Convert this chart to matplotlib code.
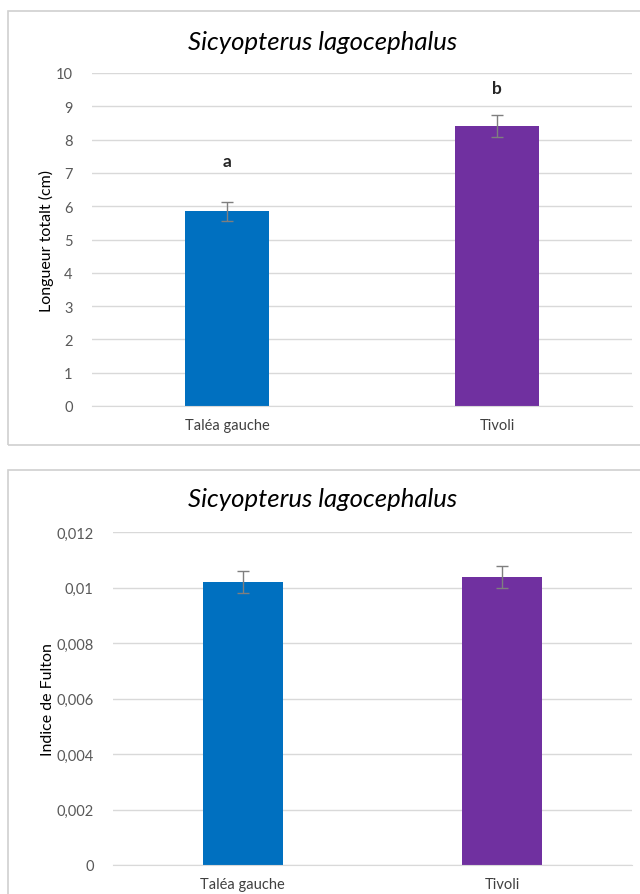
import matplotlib
matplotlib.use("Agg")
import matplotlib.pyplot as plt
from matplotlib.patches import Rectangle

plt.rcParams['font.family'] = ['Lato', 'DejaVu Sans']

# Data
sites = ["Taléa gauche", "Tivoli"]
colors = ["#0070C0", "#7030A0"]

longueur = [5.85, 8.41]
longueur_err = [0.29, 0.34]
lettres = ["a", "b"]
lettres_y = [7.35, 9.55]

fulton = [0.0102, 0.01038]
fulton_err = [0.0004, 0.0004]
fulton_ticks = [0, 0.002, 0.004, 0.006, 0.008, 0.01, 0.012]
fulton_labels = ["0", "0,002", "0,004", "0,006", "0,008", "0,01", "0,012"]

W, H = 640, 895
fig = plt.figure(figsize=(W / 100, H / 100), dpi=100)


def px_axes(x0, y0, x1, y1):
    # pixel box (top-left origin) -> figure axes
    return fig.add_axes([x0 / W, 1 - y1 / H, (x1 - x0) / W, (y1 - y0) / H])


def panel(y0, y1):
    fig.patches.append(Rectangle((8 / W, 1 - y1 / H), 700 / W, (y1 - y0) / H,
                                 transform=fig.transFigure, fill=False,
                                 edgecolor="#d0d0d0", lw=1.2))


def style(ax):
    for s in ["top", "right", "left"]:
        ax.spines[s].set_visible(False)
    ax.spines["bottom"].set_color("#d9d9d9")
    ax.grid(axis="y", color="#d9d9d9", lw=1)
    ax.set_axisbelow(True)
    ax.tick_params(axis="both", length=0, labelsize=10.5, colors="#595959")
    ax.tick_params(axis="x", pad=9, labelcolor="#404040")
    ax.set_xlim(-0.5, 1.5)


panel(12, 446)
panel(471, 920)

# Top chart: longueur totale
ax1 = px_axes(92, 74, 632, 407)
ax1.bar(range(2), longueur, width=0.31, color=colors, zorder=2)
ax1.errorbar(range(2), longueur, yerr=longueur_err, fmt="none",
             ecolor="#7f7f7f", elinewidth=1, capsize=4, capthick=1, zorder=3)
for i, t in enumerate(lettres):
    ax1.text(i, lettres_y[i], t, ha="center", va="center", fontsize=12.5,
             fontweight="bold", color="#262626")
ax1.set_ylim(0, 10)
ax1.set_yticks(range(0, 11))
ax1.set_xticks(range(2))
ax1.set_xticklabels(sites)
ax1.tick_params(axis="y", pad=14)
ax1.set_ylabel("Longueur totalt (cm)", fontsize=11.5, color="#000000", labelpad=1)
style(ax1)
fig.text(323 / W, 1 - 42 / H, "Sicyopterus lagocephalus", ha="center",
         va="center", fontsize=18.5, style="italic", color="#000000")

# Bottom chart: indice de Fulton
ax2 = px_axes(113, 533, 632, 866)
ax2.bar(range(2), fulton, width=0.31, color=colors, zorder=2)
ax2.errorbar(range(2), fulton, yerr=fulton_err, fmt="none",
             ecolor="#7f7f7f", elinewidth=1, capsize=4, capthick=1, zorder=3)
ax2.set_ylim(0, 0.012)
ax2.set_yticks(fulton_ticks)
ax2.set_yticklabels(fulton_labels)
ax2.set_xticks(range(2))
ax2.set_xticklabels(sites)
ax2.tick_params(axis="y", pad=14)
ax2.set_ylabel("Indice de Fulton", fontsize=11.5, color="#000000", labelpad=1)
style(ax2)
fig.text(323 / W, 1 - 500 / H, "Sicyopterus lagocephalus", ha="center",
         va="center", fontsize=18.5, style="italic", color="#000000")

fig.savefig("out.png", dpi=100)
